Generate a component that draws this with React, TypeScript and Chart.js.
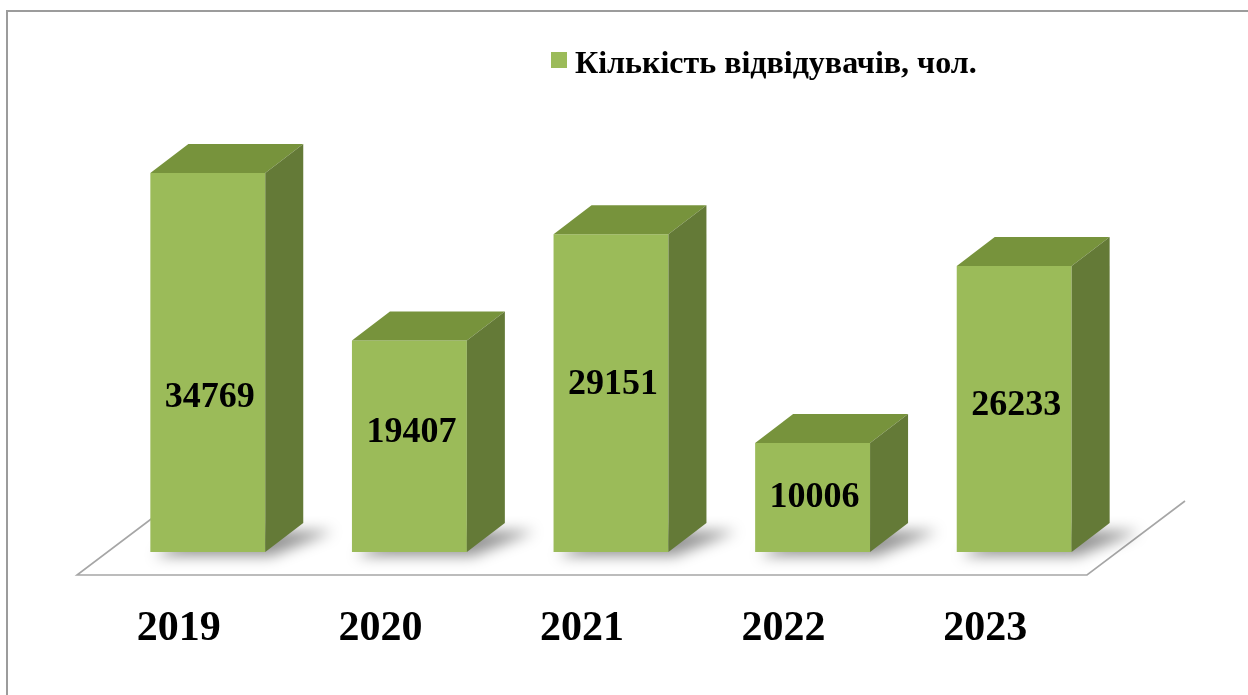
import React, { useEffect, useRef } from 'react';
import { Chart, registerables } from 'chart.js';

Chart.register(...registerables);

// ---- data ----
const categories: string[] = ['2019', '2020', '2021', '2022', '2023'];
const visitors: number[] = [34769, 19407, 29151, 10006, 26233];
const seriesName = 'Кількість відвідувачів, чол.';

// ---- styles ----
const FRONT = '#9BBB59';
const TOP = '#77933C';
const SIDE = '#647A37';
const DX = 38;
const DY = -29;
const labelShiftY = [35, -14, -8, 0, -3];
const FONT = '"Liberation Serif", "Times New Roman", serif';

const bar3dPlugin = {
  id: 'bar3d',
  beforeDatasetsDraw(chart: any) {
    const ctx: CanvasRenderingContext2D = chart.ctx;
    const area = chart.chartArea;
    const yScale = chart.scales.y;
    const base = yScale.getPixelForValue(0);
    const fy = base + 23;
    const by = fy - 74;
    const fl = area.left - 30;
    const fr = area.right - 28;
    ctx.save();
    // border
    ctx.strokeStyle = '#9c9c9c';
    ctx.lineWidth = 2;
    ctx.strokeRect(7, 11, 1400, 1000);
    // floor
    ctx.strokeStyle = '#a6a6a6';
    ctx.lineWidth = 1.6;
    ctx.beginPath();
    ctx.moveTo(fl + 98, by);
    ctx.lineTo(fl, fy);
    ctx.lineTo(fr, fy);
    ctx.lineTo(fr + 98, by);
    ctx.stroke();
    // shadows
    const meta = chart.getDatasetMeta(0);
    meta.data.forEach((bar: any) => {
      const l = bar.x - bar.width / 2;
      const r = bar.x + bar.width / 2;
      const b = bar.base;
      ctx.save();
      ctx.filter = 'blur(7px)';
      ctx.fillStyle = 'rgba(0,0,0,0.42)';
      ctx.beginPath();
      ctx.moveTo(l + 4, b + 4);
      ctx.lineTo(r + 6, b + 4);
      ctx.lineTo(r + DX + 30, b + DY + 8);
      ctx.lineTo(l + DX + 10, b + DY + 8);
      ctx.closePath();
      ctx.fill();
      ctx.restore();
    });
    ctx.restore();
  },
  afterDatasetsDraw(chart: any) {
    const ctx: CanvasRenderingContext2D = chart.ctx;
    const meta = chart.getDatasetMeta(0);
    ctx.save();
    meta.data.forEach((bar: any, i: number) => {
      const l = bar.x - bar.width / 2;
      const r = bar.x + bar.width / 2;
      const t = bar.y;
      const b = bar.base;
      // top face
      ctx.fillStyle = TOP;
      ctx.beginPath();
      ctx.moveTo(l, t);
      ctx.lineTo(l + DX, t + DY);
      ctx.lineTo(r + DX, t + DY);
      ctx.lineTo(r, t);
      ctx.closePath();
      ctx.fill();
      // side face
      ctx.fillStyle = SIDE;
      ctx.beginPath();
      ctx.moveTo(r, t);
      ctx.lineTo(r + DX, t + DY);
      ctx.lineTo(r + DX, b + DY);
      ctx.lineTo(r, b);
      ctx.closePath();
      ctx.fill();
      // value label
      ctx.fillStyle = '#000';
      ctx.font = 'bold 36px ' + FONT;
      ctx.textAlign = 'center';
      ctx.textBaseline = 'middle';
      ctx.fillText(String(visitors[i]), bar.x + 2, (t + b) / 2 + labelShiftY[i]);
      // category label
      ctx.font = 'bold 42px ' + FONT;
      ctx.fillText(categories[i], bar.x - 29, b + 77);
    });
    // legend
    ctx.fillStyle = FRONT;
    ctx.fillRect(551, 52, 16, 16);
    ctx.fillStyle = '#000';
    ctx.font = 'bold 32px ' + FONT;
    ctx.textAlign = 'left';
    ctx.textBaseline = 'alphabetic';
    ctx.fillText(seriesName, 575, 73);
    ctx.restore();
  },
};

export default function App() {
  const ref = useRef<HTMLCanvasElement | null>(null);
  useEffect(() => {
    if (!ref.current) return;
    const chart = new Chart(ref.current, {
      type: 'bar',
      data: {
        labels: categories,
        datasets: [
          {
            label: seriesName,
            data: visitors,
            backgroundColor: FRONT,
            borderWidth: 0,
            barPercentage: 0.57,
            categoryPercentage: 1,
          },
        ],
      },
      options: {
        responsive: false,
        animation: false,
        layout: { padding: { left: 107, right: 133, top: 116, bottom: 143 } },
        scales: {
          x: { display: false },
          y: { display: false, min: 0, max: 40000 },
        },
        plugins: { legend: { display: false }, tooltip: { enabled: false } },
      },
      plugins: [bar3dPlugin],
    });
    return () => chart.destroy();
  }, []);
  return (
    <canvas
      ref={ref}
      width={1248}
      height={695}
      style={{ position: 'fixed', left: 0, top: 0, width: 1248, height: 695, background: '#fff' }}
    />
  );
}
